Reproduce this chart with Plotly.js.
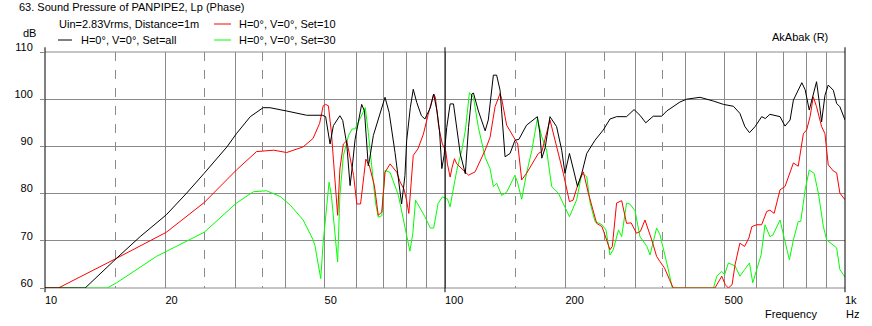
<!DOCTYPE html>
<html>
<head>
<meta charset="utf-8">
<script src="https://cdn.plot.ly/plotly-3.0.1.min.js"></script>
<style>html,body{margin:0;padding:0;background:#fff;}#chart{width:872px;height:326px;}</style>
</head>
<body>
<div id="chart"></div>
<script>
// ---- data (frequency in Hz, level in dB) ----
const freqAll = [10,12.6,15.1,17.3,20.1,22.6,25,28.5,30.1,32.6,35.1,36.5,40.2,45.1,49.4,50.3,51.6,52.6,54.6,55.5,56.8,57.9,58.6,59.6,61.9,62.9,64.3,64.8,66.2,70.8,72.5,75,77.9,79.4,80.2,81.9,83.3,85,87.3,89.1,91.9,93.7,95.5,96.9,98.2,99.5,101,103,105,107,109.2,112.4,114.5,116.7,117.8,121.2,126,128.3,132.1,134.6,137.3,141.3,145.4,149.6,153,159.9,166.3,170.2,172.5,174.6,178,183,190.1,195.8,199.5,204.7,209.6,214.4,219.8,226.1,237.1,248.8,258.5,268.5,284.4,296.9,307.2,317.6,331.6,348.2,358.3,370,386.7,401.8,434,469,496.7,526,546,562,577,596,619,632,649,688,708,729,743,780,795,814,833,849,861,874,891,908,935,953,971,1000];
const dbAll = [60,60,66.3,70.9,75.5,80.1,84.3,89.9,92.7,96.3,98.2,98.2,97.5,96.6,96.6,96.3,90.5,94.4,96.5,95.5,90.5,81.7,85.5,91.5,98.9,97.5,85.9,87.3,92.3,100.4,97.2,88.7,77.8,83.8,91.2,98.2,102.1,99.3,96.5,95.8,98.2,101.1,97.5,93.3,85.3,88.1,94,99,99,94,88.4,84.2,94,101.1,101.3,97.5,93.3,95.6,105.1,105.1,101.9,87.8,88.5,91.3,91.5,94.5,95.6,96.3,93,87.5,89.7,96.3,94.2,89.2,84.3,88.5,85,81.5,84.3,88.5,91.3,93.5,95.8,96.3,96.3,97.8,96.6,95,96.4,96.4,97.5,98.3,99.4,100,100.4,99.6,98.9,98.5,97,94.2,92.9,94.2,96.3,95.9,96.8,96.3,94.3,95.6,99.8,103.5,102,97.7,101.2,103.7,99.8,95.2,100.8,103,101.9,99.1,98.4,95.6];

const freqSet10 = [10,10.8,15.1,20.1,25,30.1,33.8,37.3,40.2,44.2,46.8,48.6,49.6,50.3,51.1,52,52.6,53.4,53.9,54.6,55.7,56.8,57.9,59.1,60.2,61.5,62.7,63.4,64.7,66.6,68.1,69.5,70.8,72.9,75.8,77.2,79,80.2,81.2,82,83.3,85.6,88.3,90.8,93.7,94.6,96.5,98.5,100.4,101.4,103,104.2,105.6,107,109.2,114.5,118.9,123.5,126,129.6,133.4,137.3,138.5,142.6,149.6,152,155.5,159.9,171.1,174.6,183,188.4,197.6,204.7,209,215.4,221.8,228.2,239.4,246.9,258.5,262,268.5,276.5,284.4,292,301.2,308,316.2,328.7,338.1,344.7,354,364,372,473,492,502,511,522,531,546,561,575,585,601,619,637,649,665,688,708,729,743,764,787,802,818,833,849,874,891,908,935,953,971,1000];
const dbSet10 = [60,60,66.3,71.8,78.1,85,88.9,89.2,88.7,89.9,91.7,94.9,98.6,98.9,98.6,93,87.3,79.6,75.4,85.2,90.5,91.2,87.3,83.8,77.8,77.8,83.8,87.3,85.9,81.7,75.4,76.1,84.5,86.3,84.5,82.5,80.9,78.5,75.8,80,88.1,89.5,92.6,96.8,101.1,100.4,94,90.5,89.1,86.3,83.5,85.6,87.4,86.3,85.6,83.9,84.6,87.7,89.2,91.9,98.4,101.2,100.2,94.5,91.3,90.5,82.9,84.3,88.5,88.9,95.6,91.3,84.3,78.3,78.6,82.2,84.6,80.1,73.7,73,68.1,68.8,78,78.5,73.7,73.8,71.6,72,74.4,70.2,66.7,65.6,64.2,61.8,60,60,62.5,60.7,60,60.7,64.9,69.5,68.8,70.6,73,73.4,73.4,76.2,76.5,75.8,80.8,81.5,84.3,86.5,85.8,92.7,93.5,96.3,100.5,98.4,94.2,92.7,86.1,84.8,84.4,80.1,78.7];

const freqSet30 = [10,14.3,15.1,19,25,30.1,33.2,35.8,38.7,41,44.2,46.8,47.3,48.9,49.6,50.6,51.3,52,52.6,53.4,53.9,54.6,55.7,57.4,58.6,59.6,63.2,64.3,65.7,67,68.1,69.5,70.8,72.9,76.5,78.9,80.2,81.7,83.1,84.4,87.2,89.1,91.9,93.7,96.1,98.5,101.4,103,104.4,107,110.1,112.4,115.1,117.8,121.2,126,129.6,132.1,134.6,138.6,142.6,149.6,152,155.5,159.9,164.9,170.2,174.6,179.5,184.8,192,197.6,204.7,213.4,219.8,226.1,230.6,237.1,246.9,252.6,258.5,263.4,271.5,276.5,284.4,289.6,298.5,307.2,319.8,325.6,338.1,344.7,352.6,361,370,469,478,492,500,511,531,546,561,577,588,599,617,631,649,660,688,705,726,743,764,775,795,814,837,858,883,900,953,971,1000];
const dbSet30 = [60,60,61.1,66.7,71.8,78,80.4,80.6,79.4,77.6,74.4,70.2,69,62,69.7,78.2,82.4,79.6,74.6,69.7,65.5,79.6,88,92.3,93.7,93.7,98.2,93,85.9,78.2,75,75.3,84.9,84.5,79.6,74.4,71.6,67.8,71.6,78.6,76.5,75.1,72.7,72.7,77.9,79.3,78.9,77.2,80,84.9,89.1,93.3,101.4,100.4,94,87.7,85.3,81.5,82.2,79.6,80.3,83.9,82.2,78.8,84.3,89.2,95.9,92,89.2,81.5,80.1,78,75.1,78.7,84.3,83.6,78,74.1,73.4,72.3,67,68.1,72.3,70.9,78,77.8,76.4,70.9,68.8,67,72.7,71.3,68.1,64.2,60,60,62.5,63.5,62.8,65.3,64.7,62.5,63.9,65.3,61.1,63.5,67,73.4,70.9,71.2,74.4,70.5,66,70.2,74.1,74.1,80.8,85,84.3,80.1,73,70.2,68.5,63.9,62.3];

const xTickVals = [10,20,30,40,50,60,70,80,90,100,200,300,400,500,600,700,800,900,1000];
const xTickText = ['10','20','','','50','','','','','100','200','','','500','','','','','1k'];
const xDashVals = [15,25,35,150,250,350];
const yTickVals = [60,70,80,90,100,110];

const FONT = 'Liberation Sans, Arial, sans-serif';
const GRID = '#8a8a8a';

const traces = [
  {x: freqSet30, y: dbSet30, name: 'H=0°, V=0°, Set=30', mode: 'lines', line: {color: '#00ff00', width: 1}},
  {x: freqSet10, y: dbSet10, name: 'H=0°, V=0°, Set=10', mode: 'lines', line: {color: '#ff0000', width: 1}},
  {x: freqAll, y: dbAll, name: 'H=0°, V=0°, Set=all', mode: 'lines', line: {color: '#000000', width: 1}}
];

function vline(xp, y0, y1, color) {
  return {type: 'line', xref: 'paper', yref: 'paper', x0: xp, x1: xp, y0: y0, y1: y1,
          line: {color: color, width: 1}, layer: 'above'};
}
const shapes = [
  // top & bottom borders
  {type: 'line', xref: 'paper', yref: 'paper', x0: 0, x1: 1, y0: 1, y1: 1, line: {color: GRID, width: 1}, layer: 'below'},
  {type: 'line', xref: 'paper', yref: 'paper', x0: 0, x1: 1, y0: 0, y1: 0, line: {color: GRID, width: 1}, layer: 'below'},
  // black decade lines (100 Hz, 1 kHz) and ticks
  vline(0.5, 0, 1, '#000'),
  vline(1, -0.018, 1.02, '#000'),
  vline(0, -0.018, 1.02, '#000'),
  vline(0.5, -0.018, 0, '#000'),
  vline(0.5, 1, 1.02, '#000'),
  // legend samples
  {type: 'line', xref: 'paper', yref: 'paper', x0: (58-45)/800, x1: (72-45)/800, y0: (288-40)/236, y1: (288-40)/236, line: {color: '#000', width: 1}},
  {type: 'line', xref: 'paper', yref: 'paper', x0: (214-45)/800, x1: (231-45)/800, y0: (288-24)/236, y1: (288-24)/236, line: {color: '#ff0000', width: 1}},
  {type: 'line', xref: 'paper', yref: 'paper', x0: (214-45)/800, x1: (231-45)/800, y0: (288-40)/236, y1: (288-40)/236, line: {color: '#00ff00', width: 1}}
];

function txt(text, px, py, anchor) {
  return {text: text, xref: 'paper', yref: 'paper', x: (px-45)/800, y: (288-py)/236,
          xanchor: anchor || 'left', yanchor: 'middle', showarrow: false,
          font: {family: FONT, size: 11, color: '#000'}};
}
const annotations = [
  txt('Uin=2.83Vrms, Distance=1m', 57, 24),
  txt('H=0°, V=0°, Set=all', 79, 40),
  txt('H=0°, V=0°, Set=10', 237, 24),
  txt('H=0°, V=0°, Set=30', 237, 40),
  txt('dB', 38, 33, 'right'),
  txt('AkAbak (R)', 830, 37, 'right'),
  txt('Frequency', 819, 314, 'right'),
  txt('Hz', 844, 314)
];

const layout = {
  width: 872, height: 326,
  paper_bgcolor: '#fff', plot_bgcolor: '#fff',
  margin: {l: 45, r: 27, t: 52, b: 38},
  showlegend: false,
  font: {family: FONT, size: 11, color: '#000'},
  title: {text: '63. Sound Pressure of PANPIPE2, Lp (Phase)', x: 19/872, xanchor: 'left', xref: 'container',
          y: 1 - 7/326, yanchor: 'middle', yref: 'container', font: {family: FONT, size: 11, color: '#000'}},
  xaxis: {type: 'log', range: [1, 3], tickmode: 'array', tickvals: xTickVals, ticktext: xTickText,
          showgrid: true, gridcolor: GRID, gridwidth: 1, ticks: '', showline: false, zeroline: false,
          ticklabelposition: 'outside right', ticklabelstandoff: 4,
          tickfont: {family: FONT, size: 11, color: '#000'},
          minor: {tickmode: 'array', tickvals: xDashVals, showgrid: true, gridcolor: GRID, griddash: 'dash', gridwidth: 1, ticks: ''}},
  yaxis: {range: [60, 110], tickmode: 'array', tickvals: yTickVals, showgrid: true, gridcolor: GRID, gridwidth: 1,
          ticks: 'outside', ticklen: 4, tickcolor: GRID, showline: false, zeroline: false,
          ticklabelshift: -5, ticklabelstandoff: 5,
          tickfont: {family: FONT, size: 11, color: '#000'}},
  shapes: shapes,
  annotations: annotations
};

Plotly.newPlot('chart', traces, layout, {displayModeBar: false, staticPlot: true});
</script>
</body>
</html>
